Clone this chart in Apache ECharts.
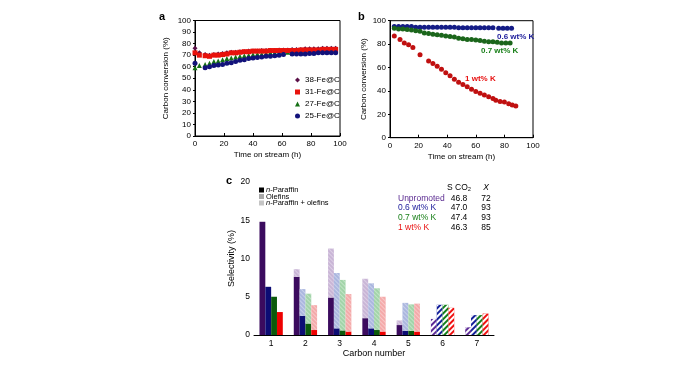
<!DOCTYPE html>
<html>
<head>
<meta charset="utf-8">
<script src="https://cdn.jsdelivr.net/npm/echarts@6/dist/echarts.min.js"></script>
<style>
  html, body { margin: 0; padding: 0; background: #fff; }
  #chart { width: 700px; height: 371px; }
</style>
</head>
<body>
<div id="chart"></div>
<script>
// panel a: carbon conversion vs time, Fe@C catalysts
const timeA = [0, 3, 7, 10, 13, 16, 19, 22, 25, 28, 31, 34, 37, 40, 43, 46, 49, 52, 55, 58, 61, 64, 67, 70, 73, 76, 79, 82, 85, 88, 91, 94, 97];
const fe38 = [76, 72, 70.5, 70, 70.5, 71, 71.5, 72, 72.5, 72.5, 73, 73, 73.5, 73.5, 73.5, 74, 74, 74, 74, 74.5, 74.5, 74.5, 75, 75, 75, 75.5, 75.5, 75.5, 75.5, 76, 76, 76, 76];
const fe31 = [72, 70, 69.5, 69, 70, 70, 70.5, 71, 72, 72, 72.5, 73, 73, 73.5, 73.5, 73.5, 73.5, 74, 74, 74, 74, 74, 74, 74, 74.5, 74.5, 74.5, 74.5, 74.5, 75, 75, 75, 75];
const fe27 = [59, 61, 62, 63, 64.5, 65, 66, 67, 67.5, 68.5, 69, 69.5, 70, 70.5, 71, 71, 71.5, 72, 72, 72, 72.5, 72.5, 73, 73, 73, 73, 73, 73, 73.5, 73.5, 73.5, 73.5, 73.5];
const fe25 = [63, null, 59, 60, 61, 61.5, 62, 63, 63.5, 64.5, 65.5, 66, 67, 67.5, 68, 68.5, 69, 69, 69.5, 70, 70.5, null, 71, 71, 71, 71, 71.5, 71.5, 72, 72, 72, 72, 72];

// panel b: K-promoted catalysts
const timeK06 = [3, 6, 9, 12, 15, 18, 21, 24, 27, 30, 33, 36, 39, 42, 45, 48, 51, 54, 57, 60, 63, 66, 69, 72, 76, 79, 82, 85];
const k06 = [95, 95, 95, 95, 95, 94.5, 94.5, 94.5, 94.5, 94.5, 94.5, 94.5, 94.5, 94.5, 94.5, 94, 94, 94, 94, 94, 94, 94, 94, 94, 93.5, 93.5, 93.5, 93.5];
const timeK07 = [3, 6, 9, 12, 15, 18, 21, 24, 27, 30, 33, 36, 39, 42, 45, 48, 51, 54, 57, 60, 63, 66, 69, 72, 75, 78, 81, 84];
const k07 = [93.5, 93, 93, 92.5, 92, 91.5, 91, 89.5, 89, 88.5, 88, 87.5, 87, 86.5, 86, 85, 84.5, 84, 84, 83.5, 83, 82.5, 82, 82, 81.5, 81, 81, 81];
const timeK1 = [3, 7, 10, 13, 16, 21, 27, 30, 33, 36, 39, 42, 45, 48, 51, 54, 57, 60, 63, 66, 69, 72, 74, 77, 80, 83, 85.5, 88];
const k1 = [87, 84, 81, 79.5, 77, 71, 65.5, 63.5, 61, 58.5, 55.5, 53, 50, 47.5, 45.5, 43.5, 41.5, 39.5, 38, 36.5, 35, 33.5, 32, 31, 30.5, 29, 28, 27];

// panel c: selectivity by carbon number
const carbonNumbers = ['1', '2', '3', '4', '5', '6', '7'];
const totalUnpromoted = [14.8, 8.6, 11.3, 7.35, 1.9, 2.1, 1.0];
const totalK06 = [6.3, 6.0, 8.1, 6.75, 4.2, 3.95, 2.6];
const totalK07 = [5.0, 5.4, 7.2, 6.1, 4.0, 3.95, 2.6];
const totalK1 = [3.0, 3.9, 5.35, 5.0, 4.1, 3.55, 2.8];
const paraffinUnpromoted = [14.8, 7.6, 4.9, 2.2, 1.3, null, null];
const paraffinK06 = [6.3, 2.5, 0.87, 0.87, 0.55, null, null];
const paraffinK07 = [5.0, 1.5, 0.6, 0.65, 0.55, null, null];
const paraffinK1 = [3.0, 0.65, 0.45, 0.45, 0.45, null, null];
const tableLabels = ['Unpromoted', '0.6 wt% K', '0.7 wt% K', '1 wt% K'];
const tableSCO2 = ['46.8', '47.0', '47.4', '46.3'];
const tableX = ['72', '93', '93', '85'];

const font = 'Liberation Sans, Arial, sans-serif';
const chart = echarts.init(document.getElementById('chart'));

const toPoints = (xs, ys) => xs.map((x, i) => [x, ys[i]]).filter(p => p[1] != null);

const catalysts = [
  { key: 'u', total: totalUnpromoted, paraffin: paraffinUnpromoted, dark: '#3b0b5e', light: '#c9b5d6', hatch: '#5c2a96', text: '#5a2a90' },
  { key: 'k06', total: totalK06, paraffin: paraffinK06, dark: '#0c0c74', light: '#abb7df', hatch: '#14209a', text: '#1a1a9a' },
  { key: 'k07', total: totalK07, paraffin: paraffinK07, dark: '#0b5a0b', light: '#a2d4a9', hatch: '#13801a', text: '#1a801a' },
  { key: 'k1', total: totalK1, paraffin: paraffinK1, dark: '#ee0000', light: '#f4aaaa', hatch: '#f01010', text: '#e81010' }
];

const axisCommon = {
  axisLine: { lineStyle: { color: '#000', width: 1 } },
  axisLabel: { color: '#000', fontSize: 8, fontFamily: font },
  splitLine: { show: false },
  nameTextStyle: { color: '#000', fontSize: 8, fontFamily: font }
};

const barSeries = [];
catalysts.forEach(c => {
  const olefin = c.total.map((t, i) => (c.paraffin[i] == null ? null : Math.round((t - c.paraffin[i]) * 100) / 100));
  const hatched = c.total.map((t, i) => (c.paraffin[i] == null ? t : null));
  const common = { type: 'bar', xAxisIndex: 2, yAxisIndex: 2, stack: c.key, barGap: '0%', barCategoryGap: '32%' };
  barSeries.push({ ...common, name: c.key + '-paraffin', data: c.paraffin, itemStyle: { color: c.dark } });
  barSeries.push({
    ...common,
    name: c.key + '-olefin',
    data: olefin,
    itemStyle: {
      color: c.light,
      // faint grain like the printed fill pattern
      decal: { symbol: 'rect', symbolSize: 1, dashArrayX: [[1, 0]], dashArrayY: [1, 2], rotation: Math.PI / 4, color: 'rgba(255,255,255,0.35)' }
    }
  });
  barSeries.push({
    ...common,
    name: c.key + '-hatched',
    data: hatched,
    itemStyle: {
      color: c.hatch,
      decal: { symbol: 'rect', symbolSize: 1, dashArrayX: [[1, 0]], dashArrayY: [2, 2], rotation: -Math.PI / 4, color: '#fff' }
    }
  });
});

const graphic = [
  { type: 'text', left: 159, top: 11, style: { text: 'a', font: 'bold 11px ' + font, fill: '#000' } },
  { type: 'text', left: 358, top: 11, style: { text: 'b', font: 'bold 11px ' + font, fill: '#000' } },
  { type: 'text', left: 226, top: 175, style: { text: 'c', font: 'bold 11px ' + font, fill: '#000' } },
  { type: 'text', left: 497, top: 33, style: { text: '0.6 wt% K', font: 'bold 8px ' + font, fill: '#1a1a9a' } },
  { type: 'text', left: 481, top: 47, style: { text: '0.7 wt% K', font: 'bold 8px ' + font, fill: '#1a801a' } },
  { type: 'text', left: 465, top: 75, style: { text: '1 wt% K', font: 'bold 8px ' + font, fill: '#e81010' } },
  // panel c legend
  { type: 'rect', shape: { x: 259, y: 187.5, width: 5, height: 5 }, style: { fill: '#000' } },
  { type: 'rect', shape: { x: 259, y: 194, width: 5, height: 5 }, style: { fill: '#a8a8a8' } },
  { type: 'rect', shape: { x: 259, y: 200.5, width: 5, height: 5 }, style: { fill: '#c4c4c4' } },
  {
    type: 'text', left: 266, top: 186,
    style: {
      text: '{i|n}-Paraffin\nOlefins\n{i|n}-Paraffin + olefins',
      font: '7.5px ' + font, fill: '#000', lineHeight: 6.6,
      rich: { i: { fontStyle: 'italic', fontSize: 7.5, fontFamily: font, lineHeight: 6.6 } }
    }
  },
  // selectivity table header
  { type: 'text', x: 459, y: 188, style: { text: 'S CO₂', font: '8.5px ' + font, fill: '#000', align: 'center', verticalAlign: 'middle' } },
  { type: 'text', x: 486, y: 188, style: { text: 'X', font: 'italic 8.5px ' + font, fill: '#000', align: 'center', verticalAlign: 'middle' } }
];
tableLabels.forEach((lab, i) => {
  const y = 198.5 + i * 9.6;
  graphic.push({ type: 'text', x: 398, y, style: { text: lab, font: '8.5px ' + font, fill: catalysts[i].text, verticalAlign: 'middle' } });
  graphic.push({ type: 'text', x: 459, y, style: { text: tableSCO2[i], font: '8.5px ' + font, fill: '#000', align: 'center', verticalAlign: 'middle' } });
  graphic.push({ type: 'text', x: 486, y, style: { text: tableX[i], font: '8.5px ' + font, fill: '#000', align: 'center', verticalAlign: 'middle' } });
});

const option = {
  animation: false,
  backgroundColor: '#fff',
  textStyle: { fontFamily: font },
  grid: [
    { left: 195, top: 20.5, width: 145, height: 115.5, show: true, borderColor: '#000', borderWidth: 1 },
    { left: 390, top: 20.7, width: 143, height: 117, show: true, borderColor: '#000', borderWidth: 1 },
    { left: 254, top: 182, width: 240, height: 153 }
  ],
  legend: {
    orient: 'vertical',
    left: 290,
    top: 71,
    itemWidth: 5,
    itemHeight: 5,
    itemGap: 4,
    itemTextGap: 4,
    textStyle: { fontSize: 8, color: '#000', fontFamily: font },
    data: ['38-Fe@C', '31-Fe@C', '27-Fe@C', '25-Fe@C']
  },
  xAxis: [
    { ...axisCommon, gridIndex: 0, type: 'value', min: 0, max: 100, interval: 20,
      name: 'Time on stream (h)', nameLocation: 'middle', nameGap: 15,
      axisTick: { inside: true, length: 3, lineStyle: { color: '#000' } }, axisLabel: { ...axisCommon.axisLabel, margin: 4 } },
    { ...axisCommon, gridIndex: 1, type: 'value', min: 0, max: 100, interval: 20,
      name: 'Time on stream (h)', nameLocation: 'middle', nameGap: 15,
      axisTick: { inside: true, length: 3, lineStyle: { color: '#000' } }, axisLabel: { ...axisCommon.axisLabel, margin: 4 } },
    { ...axisCommon, gridIndex: 2, type: 'category', data: carbonNumbers,
      name: 'Carbon number', nameLocation: 'middle', nameGap: 14,
      nameTextStyle: { ...axisCommon.nameTextStyle, fontSize: 9 },
      axisTick: { alignWithLabel: true, length: 2, lineStyle: { color: '#000' } },
      axisLabel: { ...axisCommon.axisLabel, fontSize: 8.5, margin: 4 } }
  ],
  yAxis: [
    { ...axisCommon, gridIndex: 0, type: 'value', min: 0, max: 100, interval: 10,
      name: 'Carbon conversion (%)', nameLocation: 'middle', nameGap: 25,
      axisTick: { length: 2, lineStyle: { color: '#000' } }, axisLabel: { ...axisCommon.axisLabel, margin: 4 } },
    { ...axisCommon, gridIndex: 1, type: 'value', min: 0, max: 100, interval: 20,
      name: 'Carbon conversion (%)', nameLocation: 'middle', nameGap: 22,
      axisTick: { length: 2, lineStyle: { color: '#000' } }, axisLabel: { ...axisCommon.axisLabel, margin: 4 } },
    { ...axisCommon, gridIndex: 2, type: 'value', min: 0, max: 20, interval: 5,
      name: 'Selectivity (%)', nameLocation: 'middle', nameGap: 18,
      nameTextStyle: { ...axisCommon.nameTextStyle, fontSize: 9 },
      axisTick: { length: 2, lineStyle: { color: '#000' } }, axisLabel: { ...axisCommon.axisLabel, fontSize: 8.5, margin: 4 } }
  ],
  series: [
    { name: '38-Fe@C', type: 'scatter', xAxisIndex: 0, yAxisIndex: 0, z: 1, symbol: 'diamond', symbolSize: 5,
      itemStyle: { color: '#5a1048', opacity: 1 }, data: toPoints(timeA, fe38) },
    { name: '31-Fe@C', type: 'scatter', xAxisIndex: 0, yAxisIndex: 0, symbol: 'rect', symbolSize: 5,
      itemStyle: { color: '#e8120c', opacity: 1 }, data: toPoints(timeA, fe31) },
    { name: '27-Fe@C', type: 'scatter', xAxisIndex: 0, yAxisIndex: 0, z: 1, symbol: 'triangle', symbolSize: 5,
      itemStyle: { color: '#157015', opacity: 1 }, data: toPoints(timeA, fe27) },
    { name: '25-Fe@C', type: 'scatter', xAxisIndex: 0, yAxisIndex: 0, symbol: 'circle', symbolSize: 5,
      itemStyle: { color: '#12127a', opacity: 1 }, data: toPoints(timeA, fe25) },
    { name: '0.6 wt% K', type: 'scatter', xAxisIndex: 1, yAxisIndex: 1, symbolSize: 5,
      itemStyle: { color: '#141c86', opacity: 1 }, data: toPoints(timeK06, k06) },
    { name: '0.7 wt% K', type: 'scatter', xAxisIndex: 1, yAxisIndex: 1, symbolSize: 5,
      itemStyle: { color: '#1b661b', opacity: 1 }, data: toPoints(timeK07, k07) },
    { name: '1 wt% K', type: 'scatter', xAxisIndex: 1, yAxisIndex: 1, symbolSize: 5,
      itemStyle: { color: '#c01010', opacity: 1 }, data: toPoints(timeK1, k1) },
    ...barSeries
  ],
  graphic
};

chart.setOption(option);
</script>
</body>
</html>
